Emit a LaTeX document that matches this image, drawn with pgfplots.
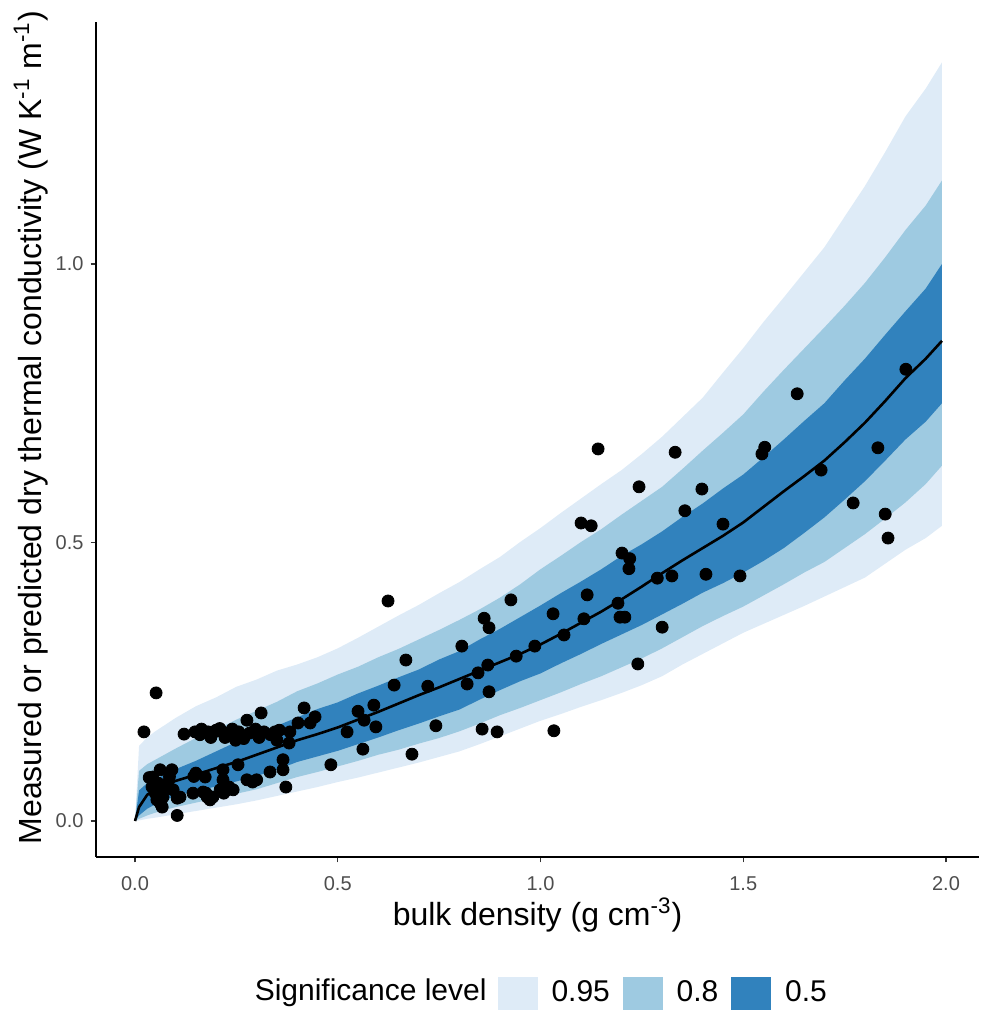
\documentclass[border=0pt]{standalone}
\usepackage{pgfplots}
\pgfplotsset{compat=1.18}
\usepgfplotslibrary{fillbetween}
\usepackage{pgfplotstable}
\usepackage{fontspec}
\setmainfont{Liberation Sans}

\definecolor{band95}{HTML}{DEEBF7}
\definecolor{band80}{HTML}{9ECAE1}
\definecolor{band50}{HTML}{3182BD}
\definecolor{ticktext}{HTML}{4D4D4D}
\definecolor{tickline}{HTML}{333333}

% prediction bands (lower/upper bounds) and median prediction
\pgfplotstableread{
x     l95   l80   l50   med   u50   u80   u95
0.00  0.000 0.000 0.000 0.000 0.000 0.000 0.000
0.01  0.001 0.004 0.010 0.025 0.055 0.090 0.135
0.03  0.004 0.010 0.022 0.047 0.068 0.102 0.150
0.05  0.006 0.015 0.030 0.057 0.075 0.110 0.161
0.10  0.012 0.025 0.045 0.072 0.093 0.130 0.185
0.15  0.018 0.033 0.054 0.083 0.108 0.149 0.206
0.20  0.024 0.041 0.062 0.095 0.125 0.164 0.222
0.25  0.030 0.049 0.071 0.106 0.142 0.182 0.241
0.30  0.037 0.057 0.081 0.119 0.155 0.198 0.254
0.35  0.045 0.068 0.092 0.132 0.171 0.214 0.270
0.40  0.053 0.079 0.106 0.145 0.186 0.233 0.281
0.45  0.061 0.088 0.116 0.156 0.201 0.247 0.294
0.50  0.070 0.098 0.126 0.168 0.213 0.263 0.310
0.55  0.078 0.108 0.138 0.182 0.229 0.277 0.329
0.60  0.087 0.119 0.150 0.196 0.243 0.294 0.349
0.65  0.096 0.128 0.163 0.211 0.258 0.309 0.369
0.70  0.105 0.139 0.175 0.226 0.272 0.326 0.388
0.75  0.115 0.149 0.188 0.240 0.290 0.343 0.409
0.80  0.125 0.161 0.200 0.255 0.305 0.361 0.429
0.85  0.138 0.175 0.218 0.270 0.326 0.380 0.452
0.90  0.152 0.190 0.235 0.285 0.345 0.401 0.474
0.95  0.166 0.203 0.251 0.300 0.366 0.425 0.501
1.00  0.180 0.217 0.265 0.317 0.387 0.452 0.526
1.05  0.192 0.231 0.283 0.336 0.409 0.476 0.553
1.10  0.205 0.246 0.300 0.356 0.430 0.501 0.579
1.15  0.217 0.260 0.318 0.376 0.452 0.524 0.605
1.20  0.230 0.276 0.335 0.398 0.476 0.550 0.630
1.25  0.244 0.292 0.352 0.421 0.497 0.575 0.659
1.30  0.260 0.310 0.371 0.445 0.520 0.600 0.690
1.35  0.281 0.330 0.390 0.468 0.546 0.632 0.725
1.40  0.300 0.350 0.410 0.490 0.570 0.665 0.760
1.45  0.319 0.368 0.427 0.512 0.597 0.697 0.805
1.50  0.338 0.385 0.446 0.536 0.622 0.730 0.849
1.55  0.354 0.405 0.467 0.564 0.653 0.771 0.896
1.60  0.370 0.425 0.490 0.592 0.685 0.810 0.940
1.65  0.386 0.446 0.517 0.619 0.718 0.848 0.985
1.70  0.403 0.465 0.545 0.647 0.750 0.886 1.030
1.75  0.420 0.490 0.577 0.680 0.791 0.925 1.085
1.80  0.437 0.515 0.610 0.715 0.830 0.966 1.140
1.85  0.462 0.543 0.647 0.754 0.873 1.012 1.201
1.90  0.487 0.572 0.685 0.795 0.915 1.061 1.265
1.95  0.508 0.605 0.717 0.830 0.956 1.105 1.315
1.99  0.530 0.638 0.750 0.862 1.000 1.150 1.362
}\bands

% measured values
\pgfplotstableread{
x     y
0.022 0.160
0.052 0.230
0.624 0.395
1.142 0.668
1.332 0.662
1.633 0.767
1.901 0.811
1.243 0.600
1.398 0.596
1.356 0.557
1.100 0.535
1.125 0.530
1.553 0.671
1.546 0.659
1.692 0.630
1.832 0.670
1.771 0.571
1.850 0.551
1.857 0.508
1.492 0.440
1.408 0.443
1.450 0.533
1.288 0.436
1.324 0.440
1.300 0.348
1.240 0.282
1.201 0.481
1.220 0.471
1.218 0.453
1.191 0.391
1.196 0.366
1.208 0.366
1.115 0.406
1.107 0.363
1.031 0.372
1.058 0.334
0.986 0.314
0.940 0.296
0.927 0.397
1.033 0.162
0.861 0.364
0.873 0.347
0.870 0.280
0.873 0.232
0.846 0.266
0.819 0.246
0.806 0.314
0.893 0.160
0.856 0.165
0.722 0.242
0.742 0.171
0.668 0.289
0.639 0.244
0.683 0.120
0.589 0.208
0.594 0.169
0.550 0.197
0.565 0.181
0.562 0.129
0.523 0.160
0.483 0.101
0.417 0.203
0.444 0.187
0.432 0.176
0.402 0.176
0.380 0.140
0.372 0.061
0.365 0.110
0.365 0.092
0.382 0.160
0.311 0.194
0.276 0.181
0.121 0.156
0.148 0.160
0.160 0.155
0.164 0.165
0.170 0.160
0.180 0.160
0.187 0.150
0.190 0.156
0.200 0.163
0.209 0.166
0.215 0.160
0.222 0.150
0.232 0.158
0.240 0.165
0.248 0.145
0.256 0.160
0.268 0.148
0.283 0.158
0.297 0.165
0.306 0.150
0.318 0.160
0.334 0.155
0.345 0.160
0.350 0.145
0.356 0.163
0.035 0.078
0.044 0.079
0.042 0.061
0.050 0.050
0.054 0.038
0.057 0.068
0.062 0.092
0.064 0.030
0.067 0.025
0.069 0.043
0.072 0.060
0.081 0.068
0.085 0.080
0.091 0.092
0.094 0.056
0.104 0.041
0.104 0.010
0.111 0.043
0.143 0.050
0.145 0.080
0.150 0.086
0.168 0.052
0.173 0.079
0.175 0.050
0.178 0.043
0.185 0.038
0.192 0.043
0.210 0.056
0.217 0.092
0.217 0.074
0.219 0.050
0.227 0.056
0.232 0.061
0.242 0.056
0.254 0.101
0.276 0.074
0.290 0.070
0.300 0.074
0.333 0.088
}\obs

\begin{document}
\begin{tikzpicture}
\begin{axis}[
  at={(48pt,76.5pt)}, anchor=south west,
  scale only axis, width=441.5pt, height=417.5pt,
  xmin=-0.0962, xmax=2.0814, ymin=-0.0646, ymax=1.4345,
  clip mode=individual,
  axis x line*=bottom, axis y line*=left,
  axis line style={line width=1pt, -},
  xtick={0,0.5,1,1.5,2}, ytick={0,0.5,1},
  minor tick num=0,
  tick align=outside, major tick length=2.75pt,
  tick style={color=tickline, line width=0.55pt},
  ticklabel style={font=\fontsize{10}{12}\selectfont, text=ticktext},
  xticklabel style={yshift=-3.5pt},
  /pgf/number format/.cd, fixed, fixed zerofill, precision=1, assume math mode=true, /pgfplots/.cd,
  xlabel={bulk density (g cm\textsuperscript{-3})},
  ylabel={Measured or predicted dry thermal conductivity (W K\textsuperscript{-1} m\textsuperscript{-1})},
  label style={font=\fontsize{16}{19}\selectfont},
  xlabel style={at={(rel axis cs:0.5,-0.0695)}, anchor=center},
  ylabel style={at={(rel axis cs:-0.0736,0.514)}, anchor=center},
  legend style={at={(rel axis cs:0.4545,-0.1629)}, anchor=west, draw=none, fill=none,
    inner sep=0pt, legend columns=-1, font=\fontsize{15}{18}\selectfont,
    /tikz/every odd column/.append style={column sep=5pt},
    /tikz/every even column/.append style={column sep=4.5pt}},
]
\addplot[draw=none, name path=u95, forget plot] table[x=x, y=u95] {\bands};
\addplot[draw=none, name path=l95, forget plot] table[x=x, y=l95] {\bands};
\addplot[draw=none, name path=u80, forget plot] table[x=x, y=u80] {\bands};
\addplot[draw=none, name path=l80, forget plot] table[x=x, y=l80] {\bands};
\addplot[draw=none, name path=u50, forget plot] table[x=x, y=u50] {\bands};
\addplot[draw=none, name path=l50, forget plot] table[x=x, y=l50] {\bands};
\addplot[fill=band95, draw=none, forget plot] fill between[of=u95 and l95];
\addplot[fill=band80, draw=none, forget plot] fill between[of=u80 and l80];
\addplot[fill=band50, draw=none, forget plot] fill between[of=u50 and l50];
\addplot[black, line width=1.3pt, forget plot] table[x=x, y=med] {\bands};
\addplot[only marks, mark=*, mark size=3pt, black, forget plot] table[x=x, y=y] {\obs};

\addlegendimage{legend image code/.code={\fill[band95] (0pt,-8pt) rectangle (19.5pt,8pt);}}
\addlegendentry{0.95}
\addlegendimage{legend image code/.code={\fill[band80] (0pt,-8pt) rectangle (19.5pt,8pt);}}
\addlegendentry{0.8}
\addlegendimage{legend image code/.code={\fill[band50] (0pt,-8pt) rectangle (19.5pt,8pt);}}
\addlegendentry{0.5}

\node[anchor=east, inner sep=0pt, font=\fontsize{15}{18}\selectfont] at (rel axis cs:0.4428,-0.1629) {Significance level};
\end{axis}
% page frame
\path (0,0) rectangle (489.5pt,505pt);
\end{tikzpicture}
\end{document}
